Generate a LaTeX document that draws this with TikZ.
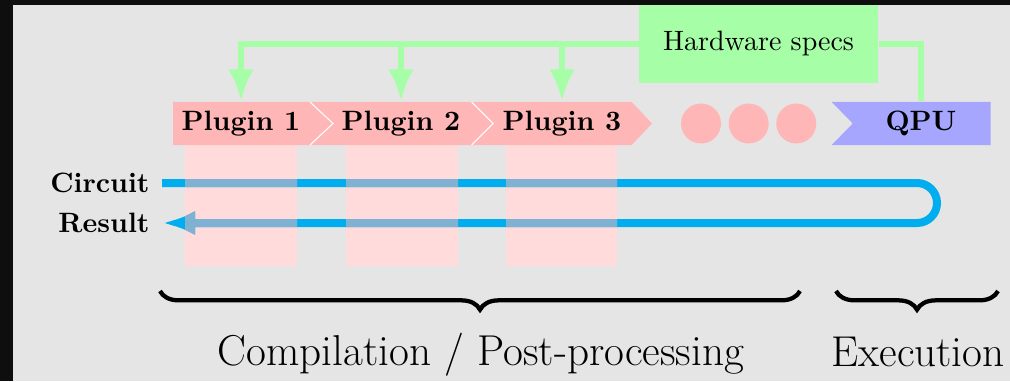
\documentclass[tikz,border=0pt]{standalone}
\usetikzlibrary{arrows.meta,decorations.pathreplacing}
\definecolor{framec}{HTML}{0E0E0E}
\definecolor{bgc}{HTML}{E5E5E5}
\definecolor{plugc}{HTML}{FFB6B6}
\definecolor{colc}{HTML}{FFDBDB}
\definecolor{hwc}{HTML}{A6FFA6}
\definecolor{qpuc}{HTML}{A6A6FF}
\definecolor{flowc}{HTML}{00AEEF}
\definecolor{flowmix}{HTML}{7FB1D3}
\begin{document}
\begin{tikzpicture}[x=0.375pt,y=-0.375pt,
  lbl/.style={font=\fontsize{10.5}{12}\selectfont\bfseries,inner sep=0pt},
  plugtext/.style={font=\fontsize{10.5}{12}\selectfont\bfseries,inner sep=0pt,minimum height=16.125pt},
  greenline/.style={draw=hwc,line width=2.6pt},
  greenarrow/.style={greenline,-{Latex[length=12pt,width=9.5pt]}},
  flowline/.style={line width=3pt,line join=round,-{Latex[length=12.4pt,width=9pt]}},
  dotc/.style={circle,fill=plugc,minimum size=15pt,inner sep=0pt},
  bracestyle/.style={decorate,decoration={brace,mirror,amplitude=7pt},line width=1.6pt},
  phase/.style={font=\fontsize{16.2}{19}\selectfont,anchor=base,inner sep=0pt},
  colbox/.style={fill=colc},
  chev/.style={fill=plugc},
  sep/.style={draw=white,line width=0.4pt}
]
\useasboundingbox (0,0) rectangle (1010,381);
\fill[framec] (0,0) rectangle (1010,381);
\fill[bgc] (13,5) rectangle (1010,381);

% pale columns below plugins
\fill[colbox] (185,145) rectangle (297,266);
\fill[colbox] (346,145) rectangle (458,266);
\fill[colbox] (506,145) rectangle (617,266);

% labels of the flow
\node[lbl,anchor=east] (circ) at (150,183) {Circuit};
\node[lbl,anchor=east] (res) at (150,223) {Result};

% flow line
\draw[flowline,draw=flowc] ([xshift=4.5pt]circ.east) -- (917,183)
  arc[start angle=90,end angle=-90,radius=7.5pt] -- ([xshift=4.5pt]res.east);
\begin{scope}
  \clip (185,145) rectangle (297,266) (346,145) rectangle (458,266) (506,145) rectangle (617,266);
  \draw[flowline,draw=flowmix] ([xshift=4.5pt]circ.east) -- (917,183)
    arc[start angle=90,end angle=-90,radius=7.5pt] -- ([xshift=4.5pt]res.east);
\end{scope}

% plugin chevrons
\fill[chev] (173,102) -- (310,102) -- (333,123.5) -- (310,145) -- (173,145) -- cycle;
\fill[chev] (310,102) -- (471.7,102) -- (493,123.5) -- (471.7,145) -- (310,145) -- (333,123.5) -- cycle;
\fill[chev] (471.7,102) -- (631.7,102) -- (652,123.5) -- (631.7,145) -- (471.7,145) -- (493,123.5) -- cycle;
\draw[sep] (310,102) -- (333,123.5) -- (310,145);
\draw[sep] (471.7,102) -- (493,123.5) -- (471.7,145);
\node[plugtext] (p1) at (241,123.5) {Plugin 1};
\node[plugtext] (p2) at (401,123.5) {Plugin 2};
\node[plugtext] (p3) at (562,123.5) {Plugin 3};

% dots
\node[dotc] (d1) at (701,123.5) {};
\node[dotc] (d2) at (748.7,123.5) {};
\node[dotc] (d3) at (796.3,123.5) {};

% QPU
\fill[qpuc] (831.7,102) -- (990.7,102) -- (990.7,145) -- (831.7,145) -- (852.7,123.5) -- cycle;
\node[plugtext] (qpu) at (921,123.5) {QPU};

% hardware specs
\node[fill=hwc,minimum width=89.6pt,minimum height=29.25pt,inner sep=0pt,font=\fontsize{10.5}{12}\selectfont] (hw) at (758.5,44) {Hardware specs};
\draw[greenarrow] (hw.west) -| (p1.north);
\draw[greenarrow] (p2.north |- hw.west) -- (p2.north);
\draw[greenarrow] (p3.north |- hw.west) -- (p3.north);
\draw[greenline] (hw.east) -| (qpu.north);

% braces
\draw[bracestyle] (160,291) -- (800,291);
\draw[bracestyle] (836,291) -- (998,291);
\node[phase] (comp) at (481,365) {Compilation / Post-processing};
\node[phase] (exec) at (918,366) {Execution};
\end{tikzpicture}
\end{document}
